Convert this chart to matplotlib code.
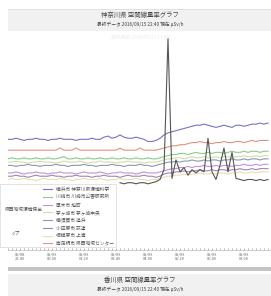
import numpy as np
import matplotlib
matplotlib.use('Agg')
import matplotlib.pyplot as plt
from matplotlib.patches import Rectangle

plt.rcParams['font.family'] = ['Noto Sans CJK JP', 'DejaVu Sans']

# --- data (uSv/h), one value every 10 min ---
blue = [0.102, 0.102, 0.103, 0.102, 0.101, 0.102, 0.102, 0.103, 0.102, 0.102,
        0.101, 0.102, 0.102, 0.103, 0.102, 0.102, 0.102, 0.101, 0.102, 0.102,
        0.102, 0.103, 0.102, 0.102, 0.104, 0.105, 0.103, 0.104, 0.106, 0.104,
        0.103, 0.103, 0.104, 0.103, 0.102, 0.100, 0.100, 0.101, 0.103, 0.106,
        0.108, 0.109, 0.110, 0.111, 0.112, 0.113, 0.114, 0.115, 0.115, 0.116,
        0.115, 0.114, 0.113, 0.114, 0.115, 0.114, 0.113, 0.115, 0.115, 0.114,
        0.115, 0.116, 0.116, 0.117, 0.116, 0.117]
green = [0.084, 0.085, 0.084, 0.084, 0.085, 0.084, 0.084, 0.085, 0.084, 0.084,
         0.085, 0.084, 0.084, 0.085, 0.086, 0.084, 0.084, 0.085, 0.084, 0.084,
         0.085, 0.084, 0.084, 0.085, 0.084, 0.084, 0.085, 0.084, 0.084, 0.085,
         0.084, 0.084, 0.085, 0.084, 0.084, 0.085, 0.084, 0.084, 0.085, 0.086,
         0.087, 0.088, 0.088, 0.089, 0.089, 0.088, 0.089, 0.090, 0.089, 0.089,
         0.090, 0.089, 0.090, 0.090, 0.089, 0.090, 0.091, 0.090, 0.090, 0.091,
         0.090, 0.091, 0.091, 0.090, 0.091, 0.091]
purple = [0.071, 0.071, 0.072, 0.071, 0.070, 0.071, 0.071, 0.072, 0.071, 0.071,
          0.070, 0.071, 0.071, 0.072, 0.071, 0.071, 0.071, 0.070, 0.071, 0.072,
          0.071, 0.071, 0.071, 0.072, 0.071, 0.070, 0.071, 0.071, 0.072, 0.071,
          0.071, 0.071, 0.070, 0.071, 0.072, 0.071, 0.071, 0.071, 0.072, 0.073,
          0.074, 0.075, 0.075, 0.076, 0.076, 0.077, 0.076, 0.077, 0.077, 0.078,
          0.077, 0.077, 0.078, 0.077, 0.078, 0.078, 0.077, 0.078, 0.078, 0.079,
          0.078, 0.078, 0.079, 0.078, 0.079, 0.079]
yellowgreen = [0.081, 0.081, 0.082, 0.081, 0.081, 0.080, 0.081, 0.081, 0.082, 0.081,
               0.081, 0.081, 0.080, 0.081, 0.082, 0.081, 0.081, 0.081, 0.082, 0.081,
               0.080, 0.081, 0.081, 0.082, 0.081, 0.081, 0.081, 0.080, 0.081, 0.081,
               0.082, 0.081, 0.081, 0.081, 0.080, 0.081, 0.081, 0.081, 0.082, 0.083,
               0.084, 0.084, 0.085, 0.085, 0.084, 0.085, 0.086, 0.085, 0.085, 0.086,
               0.085, 0.085, 0.086, 0.085, 0.086, 0.086, 0.085, 0.086, 0.086, 0.087,
               0.086, 0.086, 0.087, 0.086, 0.087, 0.087]
grayblue = [0.078, 0.078, 0.077, 0.078, 0.078, 0.079, 0.078, 0.078, 0.077, 0.078,
            0.078, 0.078, 0.079, 0.078, 0.078, 0.077, 0.078, 0.078, 0.078, 0.079,
            0.078, 0.078, 0.077, 0.078, 0.078, 0.078, 0.079, 0.078, 0.078, 0.077,
            0.078, 0.078, 0.078, 0.079, 0.078, 0.078, 0.077, 0.078, 0.079, 0.080,
            0.081, 0.081, 0.082, 0.081, 0.082, 0.082, 0.083, 0.082, 0.082, 0.083,
            0.082, 0.083, 0.083, 0.082, 0.083, 0.083, 0.084, 0.083, 0.083, 0.084,
            0.083, 0.084, 0.084, 0.083, 0.084, 0.084]
purplegray = [0.068, 0.068, 0.069, 0.068, 0.068, 0.067, 0.068, 0.069, 0.068, 0.068,
              0.068, 0.069, 0.068, 0.068, 0.067, 0.068, 0.068, 0.069, 0.068, 0.068,
              0.068, 0.067, 0.068, 0.068, 0.069, 0.068, 0.068, 0.068, 0.067, 0.068,
              0.069, 0.068, 0.068, 0.068, 0.069, 0.068, 0.068, 0.067, 0.068, 0.070,
              0.071, 0.071, 0.072, 0.072, 0.073, 0.072, 0.073, 0.073, 0.074, 0.073,
              0.073, 0.074, 0.073, 0.074, 0.074, 0.073, 0.074, 0.074, 0.075, 0.074,
              0.074, 0.075, 0.074, 0.075, 0.075, 0.075]
paleyellow = [0.065, 0.066, 0.065, 0.065, 0.066, 0.065, 0.065, 0.064, 0.065, 0.066,
              0.065, 0.065, 0.065, 0.066, 0.065, 0.065, 0.064, 0.065, 0.065, 0.066,
              0.065, 0.065, 0.065, 0.066, 0.065, 0.064, 0.065, 0.065, 0.066, 0.065,
              0.065, 0.065, 0.066, 0.065, 0.065, 0.064, 0.065, 0.065, 0.066, 0.067,
              0.068, 0.068, 0.069, 0.069, 0.070, 0.069, 0.070, 0.070, 0.071, 0.070,
              0.070, 0.071, 0.070, 0.071, 0.071, 0.070, 0.071, 0.071, 0.072, 0.071,
              0.071, 0.072, 0.071, 0.072, 0.072, 0.072]
salmon = [0.092, 0.092, 0.092, 0.092, 0.092, 0.092, 0.092, 0.092, 0.092, 0.092,
          0.092, 0.092, 0.092, 0.094, 0.092, 0.092, 0.092, 0.094, 0.092, 0.092,
          0.092, 0.092, 0.092, 0.092, 0.092, 0.092, 0.092, 0.092, 0.094, 0.092,
          0.092, 0.092, 0.092, 0.094, 0.092, 0.092, 0.092, 0.092, 0.093, 0.094,
          0.095, 0.096, 0.096, 0.097, 0.097, 0.098, 0.099, 0.099, 0.100, 0.099,
          0.099, 0.098, 0.099, 0.099, 0.100, 0.099, 0.099, 0.100, 0.100, 0.099,
          0.100, 0.101, 0.100, 0.101, 0.101, 0.101]
# station that only started reporting part way through
black = [np.nan] * 28 + [
    0.062, 0.061, 0.062, 0.062, 0.061, 0.062, 0.062, 0.061, 0.062, 0.063,
    0.065, 0.074, 0.195, 0.066, 0.083, 0.072, 0.076, 0.069, 0.074, 0.071,
    0.074, 0.072, 0.103, 0.072, 0.065, 0.078, 0.094, 0.072, 0.090, 0.066,
    0.065, 0.064, 0.065, 0.065, 0.064, 0.065, 0.064, 0.065]

stations = ['横浜市 神奈川県環境科学', '川崎市 川崎市公害研究所', '厚木市 旭町',
            '茅ヶ崎市 茅ヶ崎中央', '横須賀市 追浜', '小田原市 荻窪',
            '相模原市 上溝', '南足柄市 県西地域センター']
series = [blue, green, purple, yellowgreen, grayblue, purplegray, paleyellow, salmon]
colors = ['#7474c8', '#88cc88', '#c890d8', '#d4dca4', '#8898b8', '#9888b8',
          '#eedcb0', '#e49080']

tick_pos = [3, 11, 19, 27, 35, 43, 51, 59]
tick_labels = ['09/08\n22:40', '09/09\n00:00', '09/09\n01:20', '09/09\n02:40',
               '09/09\n04:00', '09/09\n05:20', '09/09\n06:40', '09/09\n08:00']

W, H = 271, 296
def fx(px):
    return px / W
def fy(py):
    return 1 - py / H

fig = plt.figure(figsize=(W / 100, H / 100), dpi=100)
fig.patch.set_facecolor('white')

# header band
fig.add_artist(Rectangle((fx(8), fy(31)), fx(263), 22 / H, transform=fig.transFigure,
                         facecolor='#f1f1f1', edgecolor='none'))
fig.add_artist(Rectangle((fx(8), fy(10)), fx(263), 1 / H, transform=fig.transFigure,
                         facecolor='#e0e0e0', edgecolor='none'))
fig.text(fx(140), fy(15), '神奈川県 空間線量率グラフ', fontsize=4.6, ha='center', va='center',
         color='#444444')
fig.text(fx(140), fy(24), '最終データ 2016/09/15 22:40 現在 μSv/h', fontsize=3.4,
         ha='center', va='center', color='#444444')
fig.text(fx(140), fy(37), '(最終更新 2016/09/15 22:40)', fontsize=3.4, ha='center',
         va='center', color='#eeeeee')

ax = fig.add_axes([fx(8), fy(250), 1 - fx(8), (250 - 33) / H])
x = np.arange(len(blue))
for s, c in zip(series, colors):
    ax.plot(x, s, color=c, lw=0.8)
ax.plot(x, black, color='#555555', lw=0.8)

ax.set_xlim(0, 65.75)
ax.set_ylim(0, 0.2)
for side in ['left', 'right', 'top']:
    ax.spines[side].set_visible(False)
ax.spines['bottom'].set_color('#c8c8c8')
ax.spines['bottom'].set_linewidth(0.6)
ax.set_yticks([])
ax.set_xticks(tick_pos)
ax.set_xticklabels(tick_labels, fontsize=2.8, color='#666666', linespacing=1.1)
ax.set_xticks(np.arange(0, 66), minor=True)
ax.tick_params(axis='x', which='both', direction='in', length=1.5, width=0.5,
               color='#999999', pad=2)

# legend box over the plot
fig.add_artist(Rectangle((fx(0), fy(247)), fx(116), 63 / H, transform=fig.transFigure,
                         facecolor='white', edgecolor='#d8d8d8', lw=0.5, zorder=5))
fig.text(fx(5), fy(209), '県西地域環境保全', fontsize=3.4, va='center', color='#555555',
         zorder=6)
fig.text(fx(10), fy(233), 'ップ', fontsize=3.4, va='center', color='#555555', zorder=6)
handles = ax.get_lines()[:8]
leg = fig.legend(handles, stations, loc='upper left', bbox_to_anchor=(fx(39), fy(183)),
                 bbox_transform=fig.transFigure, fontsize=3.4, frameon=False,
                 handlelength=2.0, handletextpad=0.8, labelspacing=0.58, borderpad=0.3)
leg.set_zorder(6)
for t in leg.get_texts():
    t.set_color('#555555')

# footer: next chart starting
fig.add_artist(Rectangle((fx(8), fy(271)), fx(263), 4 / H, transform=fig.transFigure,
                         facecolor='#c4c4c4', edgecolor='none'))
fig.add_artist(Rectangle((fx(8), fy(296)), fx(263), 22 / H, transform=fig.transFigure,
                         facecolor='#f1f1f1', edgecolor='none'))
fig.text(fx(140), fy(280), '香川県 空間線量率グラフ', fontsize=4.6, ha='center', va='center',
         color='#444444')
fig.text(fx(140), fy(289), '最終データ 2016/09/15 22:40 現在 μSv/h', fontsize=3.4,
         ha='center', va='center', color='#444444')

fig.savefig('out.png', dpi=100)
